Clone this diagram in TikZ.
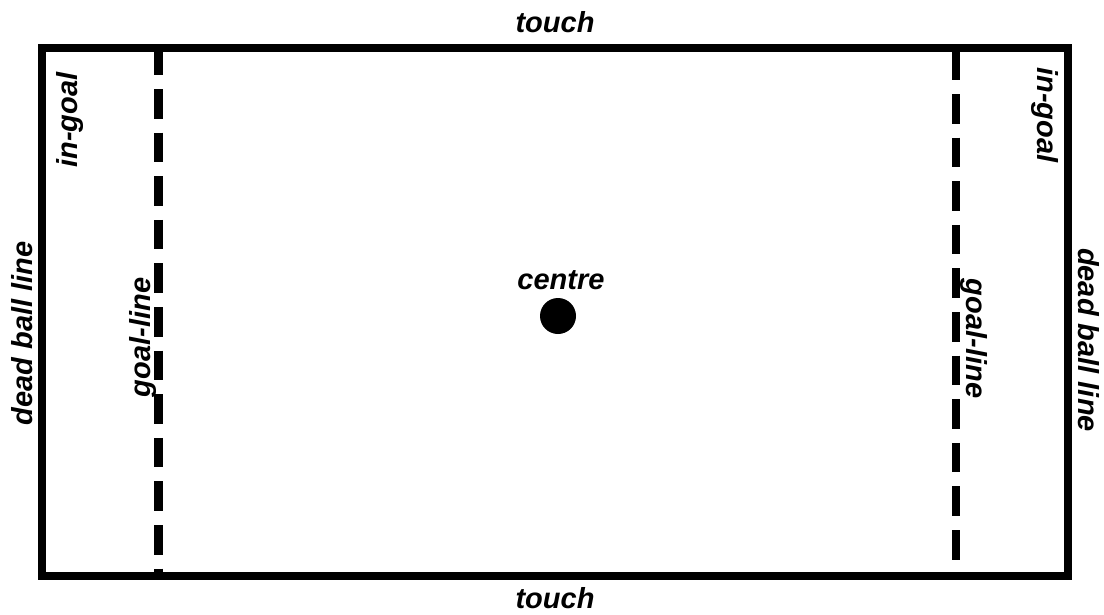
\documentclass[tikz,border=0pt]{standalone}
\usepackage{fontspec}
\newfontfamily\pitchfont{Liberation Sans}
\usetikzlibrary{positioning}

\begin{document}
\begin{tikzpicture}[
    x=1pt, y=-1pt,
    boundline/.style={
        draw=black,
        line width=8pt,
        line join=miter
    },
    goalline/.style={
        draw=black,
        line width=8.5pt,
        line cap=butt,
        dash pattern=on 29.5pt off 14.1pt
    },
    pitchlabel/.style={
        inner sep=0pt,
        font=\pitchfont\bfseries\itshape\fontsize{29}{29}\selectfont
    }
]
    \useasboundingbox (0,0) rectangle (1104,614);

    % --- FIELD OF PLAY ---
    \coordinate (nw) at (41.5,47.5);
    \coordinate (se) at (1068,576);
    \draw[boundline] (nw) rectangle (se);

    % --- GOAL-LINES ---
    \coordinate (lgtop) at (158.5,45.4);
    \coordinate (lgbot) at (158.5,576);
    \coordinate (rgtop) at (956,50.4);
    \coordinate (rgbot) at (956,576);
    \draw[goalline] (lgtop) -- (lgbot);
    \draw[goalline] (rgtop) -- (rgbot);

    % --- CENTRE SPOT ---
    \node[circle, fill=black, inner sep=0pt, minimum size=36pt] (spot) at (558,316) {};
    \node[pitchlabel] (centre) at (561,280.5) {centre};

    % --- LABELS ---
    \node[pitchlabel] (touchtop) at (555,22.5) {touch};
    \node[pitchlabel] (touchbot) at (555,598.5) {touch};

    \node[pitchlabel, rotate=90] (deadleft) at (22.5,333.5) {dead ball line};
    \node[pitchlabel, rotate=90] (ingoalleft) at (70,120) {in-goal};
    \node[pitchlabel, rotate=90] (goalleft) at (143,337.5) {goal-line};

    \node[pitchlabel, rotate=-90] (goalright) at (973.5,338.5) {goal-line};
    \node[pitchlabel, rotate=-90] (ingoalright) at (1044.5,115) {in-goal};
    \node[pitchlabel, rotate=-90] (deadright) at (1089,340) {dead ball line};
\end{tikzpicture}
\end{document}
